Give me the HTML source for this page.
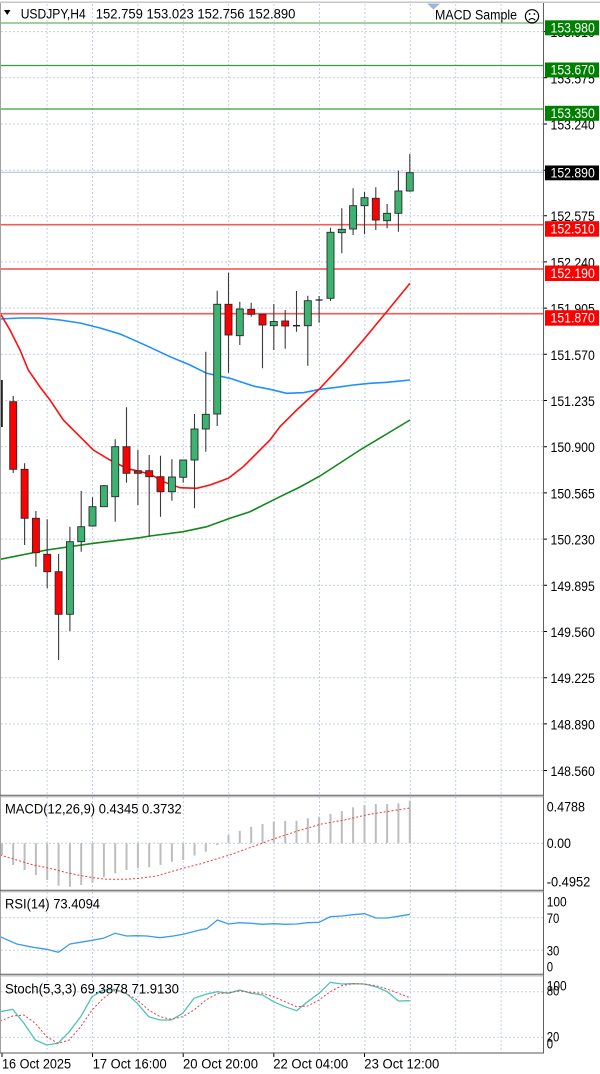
<!DOCTYPE html>
<html><head><meta charset="utf-8"><style>
html,body{margin:0;padding:0;background:#fff;width:600px;height:1074px;overflow:hidden}
svg{display:block}
text{font-family:"Liberation Sans",sans-serif;font-size:13.5px;fill:#000}
.w{fill:#fff}
</style></head><body>
<svg width="600" height="1074" viewBox="0 0 600 1074" xmlns="http://www.w3.org/2000/svg">
<rect width="600" height="1074" fill="#fff"/>
<g stroke="#c4cfe3" stroke-width="1" stroke-dasharray="2,2">
<path d="M47.1 4V795M92.5 4V795M137.9 4V795M183.3 4V795M228.7 4V795M274.1 4V795M319.5 4V795M364.9 4V795M410.3 4V795M455.7 4V795M501.1 4V795"/>
<path d="M47.1 797V890M92.5 797V890M137.9 797V890M183.3 797V890M228.7 797V890M274.1 797V890M319.5 797V890M364.9 797V890M410.3 797V890M455.7 797V890M501.1 797V890"/>
<path d="M47.1 892V974M92.5 892V974M137.9 892V974M183.3 892V974M228.7 892V974M274.1 892V974M319.5 892V974M364.9 892V974M410.3 892V974M455.7 892V974M501.1 892V974"/>
<path d="M47.1 976V1053M92.5 976V1053M137.9 976V1053M183.3 976V1053M228.7 976V1053M274.1 976V1053M319.5 976V1053M364.9 976V1053M410.3 976V1053M455.7 976V1053M501.1 976V1053"/>
<path d="M1 31.6H543M1 77.8H543M1 124H543M1 170.2H543M1 215.7H543M1 261.9H543M1 308.1H543M1 354.3H543M1 400.5H543M1 446.7H543M1 492.9H543M1 539.1H543M1 585.3H543M1 631.5H543M1 677.7H543M1 723.9H543M1 770.5H543"/>
<path d="M1 843.3H543M1 917.7H543M1 950.3H543M1 991.7H543M1 1037.3H543"/>
</g>
<g stroke="#000" stroke-width="1">
<path d="M543 31.6h4M543 77.8h4M543 124h4M543 170.2h4M543 215.7h4M543 261.9h4M543 308.1h4M543 354.3h4M543 400.5h4M543 446.7h4M543 492.9h4M543 539.1h4M543 585.3h4M543 631.5h4M543 677.7h4M543 723.9h4M543 770.5h4"/>
<path d="M2 1053v4M92.5 1053v4M183.2 1053v4M273.8 1053v4M364.5 1053v4"/>
</g>
<line x1="1" y1="23" x2="543" y2="23" stroke="#9fd09f" stroke-width="2"/>
<line x1="1" y1="65.5" x2="543" y2="65.5" stroke="#3c9a3c" stroke-width="1.2"/>
<line x1="1" y1="109" x2="543" y2="109" stroke="#3c9a3c" stroke-width="1.2"/>
<line x1="1" y1="172.3" x2="543" y2="172.3" stroke="#b4c6e2" stroke-width="1.2"/>
<g stroke="#f9b4b4" stroke-width="2"><path d="M1 224.7H543M1 269H543M1 313.7H543"/></g>
<g stroke="#ee4040" stroke-width="1"><path d="M1 224.7H543M1 269H543M1 313.7H543"/></g>
<polyline fill="none" stroke="#1e90ff" stroke-width="1.6" points="0,319 20,318 40,318 60,320 80,323 100,328 120,334 130,338.3 150,347.3 170,356.7 190,365 206.7,373.3 230,378.3 253.3,386 270,389.3 286.7,393.3 303.3,392.7 320,389.3 336.7,387.3 353.3,385 370,383.3 386.7,382.3 410,380"/>
<polyline fill="none" stroke="#ff1010" stroke-width="1.6" points="0,313 10,330 20,350 28.3,370 40,387 50,400 63.3,420 80,436.7 93.3,450 110,460 126.7,468.3 140,471.7 150,474 163.3,481.7 180,487.7 196.7,488.3 210,485 228.3,478.3 243.3,466.7 256.7,453.3 270,440 280,426.7 296.7,410 320,388.3 343.3,363.3 363.3,340 386.7,311.7 410,283.3"/>
<polyline fill="none" stroke="#12871a" stroke-width="1.6" points="0,559.3 46.7,550 93.3,543.3 140,537.7 150,536 183.3,531.7 206.7,526.7 230,518.3 250,511.7 270,501.7 280,496.7 300,487 320,476 340,463 360,450 385,435 410,420"/>
<g stroke="#3a3a3a" stroke-width="1.1">
<path d="M1.9 380V427M13.2 396V473M24.6 463.3V545M35.9 511V566.7M47.2 519.3V588.3M58.6 554V660M69.9 526.7V631M81.2 491V551.7M92.5 497.3V526.7M103.9 485V507M115.2 439.3V521.7M126.5 407.3V482.7M137.9 450V505M149.2 455V536.7M160.5 455.7V516.7M171.9 459.3V500.7M183.2 460V482.7M194.5 414V508.3M205.8 351.7V451.7M217.2 290.7V426M228.5 272.7V372.7M239.8 301.7V345M251.2 302.7V316.7M262.5 314.3V368.3M273.8 304V350M285.2 310V348.7M296.5 291V331.7M307.8 295.7V365.7M319.1 296V322.7M330.5 227.7V301M341.8 208.3V253.3M353.1 188.3V235M364.5 191.7V234.3M375.8 187.3V230M387.1 204V228.3M398.4 170.7V231.7M409.8 154V191.7"/>
</g>
<line x1="1.8" y1="380" x2="1.8" y2="427" stroke="#222" stroke-width="2"/>
<g stroke="#2a2a2a" stroke-width="0.9">
<rect x="9.7" y="401.7" width="7" height="67.6" fill="#ff0000"/>
<rect x="21.1" y="469.3" width="7" height="49" fill="#ff0000"/>
<rect x="32.4" y="518.3" width="7" height="34.4" fill="#ff0000"/>
<rect x="43.7" y="554.3" width="7" height="17.4" fill="#ff0000"/>
<rect x="55.1" y="571.7" width="7" height="42.6" fill="#ff0000"/>
<rect x="66.4" y="541.7" width="7" height="72.6" fill="#3cb371"/>
<rect x="77.7" y="526.7" width="7" height="15" fill="#3cb371"/>
<rect x="89" y="506.7" width="7" height="19.3" fill="#3cb371"/>
<rect x="100.4" y="485.7" width="7" height="21" fill="#3cb371"/>
<rect x="111.7" y="446.7" width="7" height="50" fill="#3cb371"/>
<rect x="123" y="446.7" width="7" height="26.6" fill="#ff0000"/>
<rect x="134.4" y="470.7" width="7" height="2.6" fill="#ff0000"/>
<rect x="145.7" y="470.7" width="7" height="6" fill="#ff0000"/>
<rect x="157" y="476.7" width="7" height="15" fill="#ff0000"/>
<rect x="168.4" y="477" width="7" height="14.7" fill="#3cb371"/>
<rect x="179.7" y="460" width="7" height="17.3" fill="#3cb371"/>
<rect x="191" y="429" width="7" height="31" fill="#3cb371"/>
<rect x="202.3" y="414.3" width="7" height="14.7" fill="#3cb371"/>
<rect x="213.7" y="304.3" width="7" height="109.7" fill="#3cb371"/>
<rect x="225" y="304.3" width="7" height="30.7" fill="#ff0000"/>
<rect x="236.3" y="309" width="7" height="26.7" fill="#3cb371"/>
<rect x="247.7" y="309.3" width="7" height="5" fill="#ff0000"/>
<rect x="259" y="314.3" width="7" height="10.7" fill="#ff0000"/>
<rect x="270.3" y="321.5" width="7" height="4.2" fill="#3cb371"/>
<rect x="281.7" y="321" width="7" height="5" fill="#ff0000"/>
<rect x="304.3" y="300.7" width="7" height="25" fill="#3cb371"/>
<rect x="327" y="232.3" width="7" height="66" fill="#3cb371"/>
<rect x="338.3" y="229.3" width="7" height="3.4" fill="#3cb371"/>
<rect x="349.6" y="205.7" width="7" height="23.3" fill="#3cb371"/>
<rect x="361" y="197.7" width="7" height="8" fill="#3cb371"/>
<rect x="372.3" y="198.3" width="7" height="21.7" fill="#ff0000"/>
<rect x="383.6" y="213.3" width="7" height="7.4" fill="#3cb371"/>
<rect x="394.9" y="191" width="7" height="22.3" fill="#3cb371"/>
<rect x="406.3" y="172.7" width="7" height="18.3" fill="#3cb371"/>
</g>
<g stroke="#222" stroke-width="1.3"><path d="M293 325.7h7M315.6 300h7"/></g>
<g stroke="#bdbdbd" stroke-width="2">
<path d="M1.9 843.3V855M13.2 843.3V865M24.6 843.3V870M35.9 843.3V875M47.2 843.3V880M58.6 843.3V885.7M69.9 843.3V886.7M81.2 843.3V885M92.5 843.3V882.7M103.9 843.3V877.3M115.2 843.3V873.3M126.5 843.3V870M137.9 843.3V868.3M149.2 843.3V867.3M160.5 843.3V865M171.9 843.3V861.7M183.2 843.3V860M194.5 843.3V855.5M205.8 843.3V851.7M217.2 843.3V845M228.5 843.3V835M239.8 843.3V830.7M251.2 843.3V826.7M262.5 843.3V824M273.8 843.3V821.7M285.2 843.3V821M296.5 843.3V820.7M307.8 843.3V818.3M319.1 843.3V816.7M330.5 843.3V814M341.8 843.3V811M353.1 843.3V807.3M364.5 843.3V805M375.8 843.3V804M387.1 843.3V804M398.4 843.3V803.3M409.8 843.3V800.7"/>
</g>
<polyline fill="none" stroke="#f03c3c" stroke-width="1" stroke-dasharray="2,2" points="0,855 16.7,860 33.3,865 50,868.3 66.7,872.7 83.3,876 93.3,877.7 106.7,879.3 123.3,879.3 140,878.3 156.7,876 173.3,871 186.7,867.3 200,864 229.6,855 252.6,846.7 275.5,838.3 298.5,830.7 321.5,824 344.4,820 367.4,814.7 390.4,811 409.9,808"/>
<polyline fill="none" stroke="#3a9bf5" stroke-width="1.3" points="0,936.7 16.7,944 33.3,947.3 46.7,949.3 58.3,952.3 70,944 80,942.3 90,940.7 103.3,938.3 115,933.3 126.7,936 136.7,935.7 146.7,936 160,937.7 173.3,936 183.3,934.3 200,930 206.7,928.7 217.4,920 228.5,924 239.6,922.7 251,923.3 262.5,924.3 273.6,923.7 285,924.3 296.6,924 307.7,922.7 319,922.3 330.3,916.7 341.7,916 352.8,914.7 364.3,913.7 375.8,918 387.3,918 398.4,916.3 409.9,914.3"/>
<polyline fill="none" stroke="#4cc4b4" stroke-width="1.3" points="0,1011.7 12.7,1009.3 24,1023.3 35.3,1040 46.7,1045 58,1043.3 69.3,1031.7 80.7,1016.7 92,996.7 103.3,990 114.7,989.3 126,993.3 137.3,1003.3 148.7,1016.7 160,1020 171.3,1020 182.7,1013.3 194,998.3 205.9,994.3 217.4,991.7 228.5,993.3 239.6,990 251,993.3 262.5,995 273.6,1001.7 285,1006.7 296.6,1010.7 307.7,1001.7 319,993.3 330.3,982.3 341.7,984 352.8,983.7 364.3,984 375.8,986.7 387.3,991.7 398.4,1001 409.9,1000.7"/>
<polyline fill="none" stroke="#f03c3c" stroke-width="1" stroke-dasharray="2,2" points="0,1021 12.7,1016 24,1015 35.3,1023.3 46.7,1036.7 58,1043.3 69.3,1040 80.7,1026.7 92,1010 103.3,998.3 114.7,990 126,993.3 137.3,1000 148.7,1010 160,1016.7 171.3,1019.3 182.7,1016.7 194,1010 205.9,1000 217.4,993.7 228.5,992.7 239.6,991 251,992.3 262.5,993.3 273.6,996.7 285,1001.7 296.6,1006.7 307.7,1006 319,1000 330.3,991.7 341.7,985.7 352.8,983.7 364.3,984 375.8,985.7 387.3,989 398.4,993.3 409.9,997.7"/>
<line x1="0" y1="2.2" x2="600" y2="2.2" stroke="#c0c0c0" stroke-width="1.4"/>
<g fill="none" stroke-width="1">
<path d="M0.5 3V1053.5" stroke="#a0a0a0"/>
<path d="M543.5 3V1053.5" stroke="#606060"/>
<path d="M0 795.2H543.5M0 890.2H543.5M0 974.3H543.5M0 1053H543.5" stroke="#5a5a5a"/>
<path d="M0 796.8H543.5M0 891.8H543.5M0 975.9H543.5" stroke="#a8a8a8"/>
</g>
<polygon points="427,3.5 440,3.5 433.5,9.5" fill="#9fb5d5"/>
<polygon points="4,10 10.5,10 7.25,15" fill="#000"/>
<text x="20.7" y="18.3" textLength="65" lengthAdjust="spacingAndGlyphs">USDJPY,H4</text>
<text x="95.7" y="18.3" textLength="199.7" lengthAdjust="spacingAndGlyphs">152.759 153.023 152.756 152.890</text>
<text x="435" y="19.5" textLength="82" lengthAdjust="spacingAndGlyphs">MACD Sample</text>
<circle cx="532" cy="16.3" r="6.6" fill="none" stroke="#000" stroke-width="1.2"/>
<circle cx="529.6" cy="14" r="0.9" fill="#000"/>
<circle cx="534.4" cy="14" r="0.9" fill="#000"/>
<path d="M528.8 20.2Q532 16.8 535.2 20.2" fill="none" stroke="#000" stroke-width="1.1"/>
<g>
<text x="550.5" y="37.1" textLength="44.3" lengthAdjust="spacingAndGlyphs">153.910</text>
<text x="550.5" y="83.3" textLength="44.3" lengthAdjust="spacingAndGlyphs">153.575</text>
<text x="550.5" y="129.5" textLength="44.3" lengthAdjust="spacingAndGlyphs">153.240</text>
<text x="550.5" y="221.2" textLength="44.3" lengthAdjust="spacingAndGlyphs">152.575</text>
<text x="550.5" y="267.4" textLength="44.3" lengthAdjust="spacingAndGlyphs">152.240</text>
<text x="550.5" y="313.6" textLength="44.3" lengthAdjust="spacingAndGlyphs">151.905</text>
<text x="550.5" y="359.8" textLength="44.3" lengthAdjust="spacingAndGlyphs">151.570</text>
<text x="550.5" y="406" textLength="44.3" lengthAdjust="spacingAndGlyphs">151.235</text>
<text x="550.5" y="452.2" textLength="44.3" lengthAdjust="spacingAndGlyphs">150.900</text>
<text x="550.5" y="498.4" textLength="44.3" lengthAdjust="spacingAndGlyphs">150.565</text>
<text x="550.5" y="544.6" textLength="44.3" lengthAdjust="spacingAndGlyphs">150.230</text>
<text x="550.5" y="590.8" textLength="44.3" lengthAdjust="spacingAndGlyphs">149.895</text>
<text x="550.5" y="637" textLength="44.3" lengthAdjust="spacingAndGlyphs">149.560</text>
<text x="550.5" y="683.2" textLength="44.3" lengthAdjust="spacingAndGlyphs">149.225</text>
<text x="550.5" y="729.4" textLength="44.3" lengthAdjust="spacingAndGlyphs">148.890</text>
<text x="550.5" y="776" textLength="44.3" lengthAdjust="spacingAndGlyphs">148.560</text>
</g>
<rect x="545" y="20.3" width="54" height="15" fill="#008000"/>
<text class="w" x="550.5" y="32.4" textLength="44.3" lengthAdjust="spacingAndGlyphs">153.980</text>
<rect x="545" y="62.5" width="54" height="15" fill="#008000"/>
<text class="w" x="550.5" y="74.6" textLength="44.3" lengthAdjust="spacingAndGlyphs">153.670</text>
<rect x="545" y="105.8" width="54" height="15" fill="#008000"/>
<text class="w" x="550.5" y="117.9" textLength="44.3" lengthAdjust="spacingAndGlyphs">153.350</text>
<rect x="545" y="165.5" width="54" height="14.8" fill="#000"/>
<text class="w" x="550.5" y="177.6" textLength="44.3" lengthAdjust="spacingAndGlyphs">152.890</text>
<rect x="545" y="221.2" width="54" height="15.5" fill="#ff0000"/>
<text class="w" x="550.5" y="233.6" textLength="44.3" lengthAdjust="spacingAndGlyphs">152.510</text>
<rect x="545" y="265.5" width="54" height="15.5" fill="#ff0000"/>
<text class="w" x="550.5" y="277.9" textLength="44.3" lengthAdjust="spacingAndGlyphs">152.190</text>
<rect x="545" y="310.2" width="54" height="15.5" fill="#ff0000"/>
<text class="w" x="550.5" y="322.6" textLength="44.3" lengthAdjust="spacingAndGlyphs">151.870</text>
<text x="5" y="813.3" textLength="176.7" lengthAdjust="spacingAndGlyphs">MACD(12,26,9) 0.4345 0.3732</text>
<text x="5" y="908.3" textLength="95" lengthAdjust="spacingAndGlyphs">RSI(14) 73.4094</text>
<text x="5" y="993.3" textLength="174" lengthAdjust="spacingAndGlyphs">Stoch(5,3,3) 69.3878 71.9130</text>
<text x="546.7" y="811.4" textLength="38.3" lengthAdjust="spacingAndGlyphs">0.4788</text>
<text x="546.7" y="848" textLength="24.3" lengthAdjust="spacingAndGlyphs">0.00</text>
<text x="546.7" y="886.4" textLength="43.6" lengthAdjust="spacingAndGlyphs">-0.4952</text>
<text x="546.7" y="906.4" textLength="20" lengthAdjust="spacingAndGlyphs">100</text>
<text x="546.7" y="923" textLength="12.6" lengthAdjust="spacingAndGlyphs">70</text>
<text x="546.7" y="955.4" textLength="12.6" lengthAdjust="spacingAndGlyphs">30</text>
<text x="546.7" y="971.4" textLength="6.3" lengthAdjust="spacingAndGlyphs">0</text>
<text x="546.7" y="990.7" textLength="20" lengthAdjust="spacingAndGlyphs">100</text>
<text x="546.7" y="995.4" textLength="12.6" lengthAdjust="spacingAndGlyphs">80</text>
<text x="546.7" y="1041.4" textLength="12.6" lengthAdjust="spacingAndGlyphs">20</text>
<text x="546.7" y="1048.7" textLength="6.3" lengthAdjust="spacingAndGlyphs">0</text>
<text x="2" y="1068.5" textLength="69" lengthAdjust="spacingAndGlyphs">16 Oct 2025</text>
<text x="92.7" y="1068.5" textLength="74" lengthAdjust="spacingAndGlyphs">17 Oct 16:00</text>
<text x="183" y="1068.5" textLength="75" lengthAdjust="spacingAndGlyphs">20 Oct 20:00</text>
<text x="273.2" y="1068.5" textLength="75" lengthAdjust="spacingAndGlyphs">22 Oct 04:00</text>
<text x="364.3" y="1068.5" textLength="75" lengthAdjust="spacingAndGlyphs">23 Oct 12:00</text>
</svg>
</body></html>
